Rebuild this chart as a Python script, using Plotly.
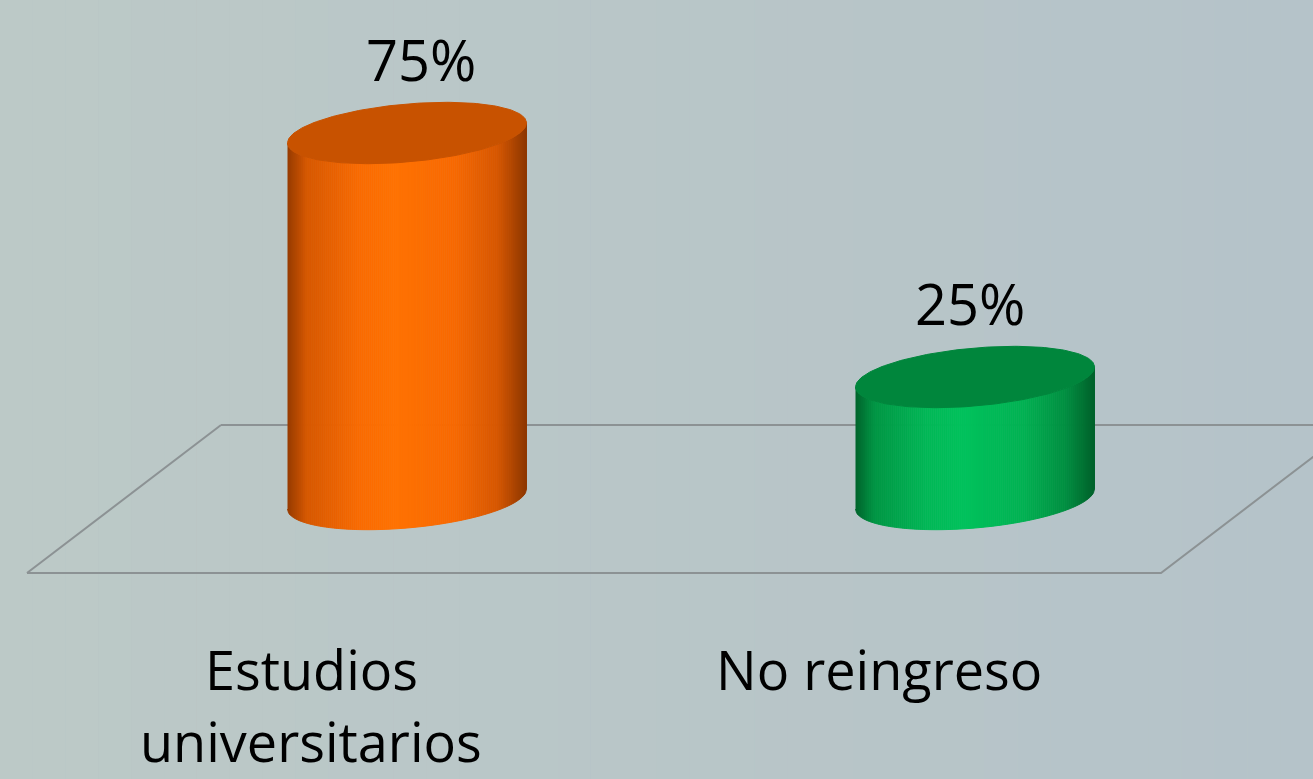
import numpy as np
import plotly.graph_objects as go

# ---- data ----
categories = ["Estudios<br>universitarios", "No reingreso"]
values = [75, 25]
value_labels = ["75%", "25%"]

# ---- style constants ----
W, H = 1313, 779
PX_PER_CAT = 568.0      # px between category centres
PX_PER_UNIT = 4.88      # px per percentage point
X0_PX = 407.0           # px of first category centre
Y0_PX = 499.0           # px of value 0
A_PX = 119.5            # cylinder half width
B_PX = 29.0             # ellipse vertical semi-axis
SHEAR = 0.084           # tilt of ellipses
FLOOR_DEPTH = 74.0      # px half depth of floor (vertical)
FLOOR_SHIFT = 97.0      # px horizontal half shift of floor
LABEL_XSHIFT = [14, -5]
LINE_GAP = 72

x_range = [-X0_PX / PX_PER_CAT, (W - X0_PX) / PX_PER_CAT]
y_range = [-(H - Y0_PX) / PX_PER_UNIT, Y0_PX / PX_PER_UNIT]

def dx(px):
    return px / PX_PER_CAT

def dy(px):
    return px / PX_PER_UNIT

body_stops = {
    0: [(0.0, (150, 58, 0)), (0.08, (214, 88, 0)), (0.3, (250, 106, 0)), (0.45, (255, 114, 2)),
        (0.7, (248, 104, 0)), (0.88, (214, 86, 0)), (1.0, (140, 54, 0))],
    1: [(0.0, (0, 100, 44)), (0.08, (0, 150, 68)), (0.3, (0, 184, 86)), (0.45, (0, 194, 92)),
        (0.7, (0, 178, 82)), (0.88, (0, 142, 64)), (1.0, (0, 96, 42))],
}
top_colors = {0: "rgb(200,82,0)", 1: "rgb(0,134,60)"}

def interp(stops, t):
    for (t0, c0), (t1, c1) in zip(stops[:-1], stops[1:]):
        if t0 <= t <= t1:
            f = (t - t0) / (t1 - t0) if t1 > t0 else 0
            c = [round(c0[i] + f * (c1[i] - c0[i])) for i in range(3)]
            return "rgb(%d,%d,%d)" % tuple(c)
    return "rgb(%d,%d,%d)" % stops[-1][1]

fig = go.Figure()

# floor outline (value 0 plane)
fy = dy(FLOOR_DEPTH)
fx = dx(FLOOR_SHIFT)
left = -X0_PX / PX_PER_CAT + dx(27)
right_front = dx(1161 - X0_PX)
floor_x = [left + 2 * fx, right_front + 2 * fx + 1, None, left, left + 2 * fx, None,
           left, right_front, right_front + 2 * fx]
floor_y = [fy, fy, None, -fy, fy, None, -fy, -fy, fy]
fig.add_trace(go.Scatter(x=floor_x, y=floor_y, mode="lines",
                         line=dict(color="rgb(140,146,148)", width=2),
                         hoverinfo="skip", showlegend=False))

N = 120
for i, v in enumerate(values):
    cx = i
    # body strips
    edges = np.linspace(-A_PX, A_PX, N + 1)
    for j in range(N):
        a0, a1 = edges[j], edges[j + 1]
        us = np.linspace(a0, a1, 3)
        front = B_PX * np.sqrt(np.clip(1 - (us / A_PX) ** 2, 0, 1))
        top_y = v - dy(front) + dy(SHEAR * us)
        bot_y = 0 - dy(front) + dy(SHEAR * us)
        xs = list(cx + dx(us)) + list(cx + dx(us[::-1]))
        ys = list(top_y) + list(bot_y[::-1])
        col = interp(body_stops[i], (j + 0.5) / N)
        fig.add_trace(go.Scatter(x=xs, y=ys, fill="toself", fillcolor=col, mode="lines",
                                 line=dict(color=col, width=1), hoverinfo="skip",
                                 showlegend=False))
    # top ellipse
    t = np.linspace(0, 2 * np.pi, 200)
    ex = A_PX * np.cos(t)
    ey_px = B_PX * np.sin(t) - SHEAR * ex
    fig.add_trace(go.Scatter(x=cx + dx(ex), y=v - dy(ey_px), fill="toself",
                             fillcolor=top_colors[i], mode="lines",
                             line=dict(color=top_colors[i], width=1),
                             hoverinfo="skip", showlegend=False))
    # value label
    fig.add_annotation(x=cx, y=v, text=value_labels[i], showarrow=False,
                       yshift=74, xshift=LABEL_XSHIFT[i],
                       font=dict(family="Open Sans", size=56, color="#000000"))
    # category label, one annotation per line
    for li, line in enumerate(categories[i].split("<br>")):
        fig.add_annotation(x=cx, y=0, text=line, showarrow=False, borderpad=0,
                           xshift=-96, yshift=-132 - li * LINE_GAP, yanchor="top",
                           font=dict(family="Open Sans", size=54, color="#000000"))

# background gradient
shapes = []
nb = 40
for k in range(nb):
    f = k / (nb - 1)
    r = round(188 - 7 * f)
    g = round(201 - 6 * f)
    b = round(199 + 2 * f)
    shapes.append(dict(type="rect", xref="paper", yref="paper", x0=k / nb, x1=(k + 1) / nb,
                       y0=0, y1=1, fillcolor="rgb(%d,%d,%d)" % (r, g, b),
                       line=dict(width=0, color="rgb(%d,%d,%d)" % (r, g, b)),
                       layer="below"))

fig.update_layout(
    width=W, height=H, margin=dict(l=0, r=0, t=0, b=0),
    paper_bgcolor="rgb(185,198,199)", plot_bgcolor="rgb(185,198,199)",
    xaxis=dict(range=x_range, visible=False, fixedrange=True),
    yaxis=dict(range=y_range, visible=False, fixedrange=True),
    shapes=shapes, showlegend=False,
)

fig.write_html("out.html", config={"displayModeBar": False},
               post_script="document.body.style.margin='0';document.body.style.overflow='hidden';")
